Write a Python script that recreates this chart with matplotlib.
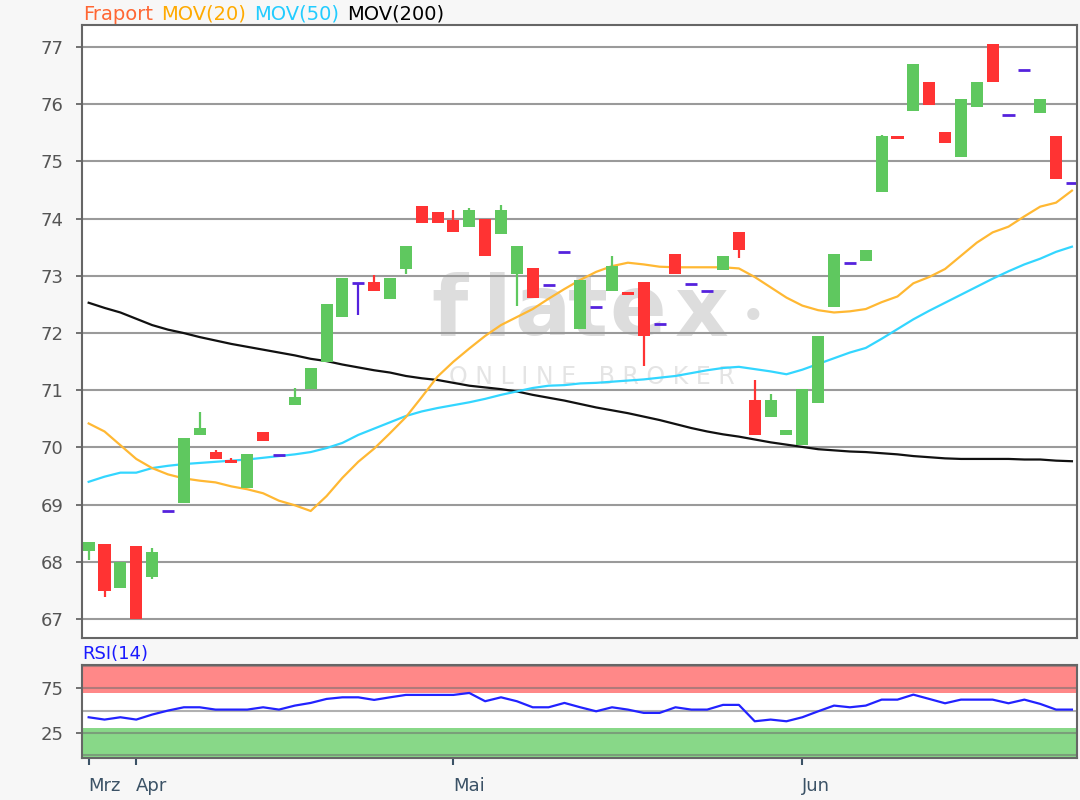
import matplotlib
matplotlib.use("Agg")
import matplotlib.pyplot as plt

# ---------------- data ----------------
opens = [68.19, 68.31, 67.55, 68.28, 67.73, 68.89, 69.03, 70.22, 69.92, 69.78,
         69.29, 70.27, 69.87, 70.74, 71.02, 71.50, 72.28, 72.88, 72.89, 72.59,
         73.12, 74.22, 74.11, 73.98, 73.85, 74.00, 73.74, 73.03, 73.14, 72.84,
         73.41, 72.07, 72.46, 72.73, 72.71, 72.89, 72.15, 73.38, 72.85, 72.74,
         73.11, 73.76, 70.83, 70.53, 70.22, 70.04, 70.77, 72.45, 73.23, 73.26,
         74.47, 75.44, 75.88, 76.38, 75.52, 75.07, 75.95, 77.05, 75.81, 76.59,
         75.84, 75.44, 74.63]
highs = [68.35, 68.31, 68.00, 68.28, 68.24, 68.89, 70.16, 70.62, 69.95, 69.81,
         69.88, 70.27, 69.87, 71.04, 71.39, 72.51, 72.96, 72.88, 73.01, 72.96,
         73.52, 74.22, 74.11, 74.15, 74.19, 74.00, 74.23, 73.52, 73.14, 72.84,
         73.41, 72.93, 72.46, 73.35, 72.71, 72.89, 72.15, 73.38, 72.85, 72.74,
         73.35, 73.76, 71.18, 70.93, 70.30, 71.03, 71.95, 73.38, 73.23, 73.45,
         75.47, 75.44, 76.70, 76.38, 75.52, 76.10, 76.38, 77.05, 75.81, 76.59,
         76.10, 75.44, 74.63]
lows = [68.03, 67.38, 67.55, 67.00, 67.70, 68.89, 69.03, 70.22, 69.80, 69.73,
        69.29, 70.11, 69.87, 70.74, 71.02, 71.50, 72.28, 72.31, 72.73, 72.59,
        73.03, 73.92, 73.92, 73.77, 73.85, 73.35, 73.74, 72.47, 72.62, 72.84,
        73.41, 72.07, 72.46, 72.73, 72.66, 71.43, 72.15, 73.04, 72.85, 72.74,
        73.11, 73.32, 70.22, 70.53, 70.22, 70.04, 70.77, 72.45, 73.23, 73.26,
        74.47, 75.39, 75.88, 75.99, 75.32, 75.07, 75.95, 76.39, 75.81, 76.59,
        75.84, 74.69, 74.63]
closes = [68.35, 67.49, 68.00, 67.00, 68.17, 68.89, 70.16, 70.34, 69.80, 69.73,
          69.88, 70.11, 69.87, 70.89, 71.39, 72.51, 72.96, 72.88, 72.73, 72.96,
          73.52, 73.92, 73.92, 73.77, 74.15, 73.35, 74.15, 73.52, 72.62, 72.84,
          73.41, 72.93, 72.46, 73.18, 72.66, 71.95, 72.15, 73.04, 72.85, 72.74,
          73.35, 73.46, 70.22, 70.83, 70.30, 71.03, 71.95, 73.38, 73.23, 73.45,
          75.44, 75.39, 76.70, 75.99, 75.32, 76.10, 76.38, 76.39, 75.81, 76.59,
          76.10, 74.69, 74.63]
mov20 = [70.42, 70.28, 70.04, 69.80, 69.64, 69.53, 69.46, 69.42, 69.39, 69.32,
         69.27, 69.20, 69.07, 68.99, 68.89, 69.15, 69.47, 69.75, 69.98, 70.25,
         70.53, 70.88, 71.24, 71.50, 71.73, 71.95, 72.14, 72.28, 72.42, 72.60,
         72.77, 72.93, 73.07, 73.17, 73.23, 73.20, 73.16, 73.15, 73.15, 73.15,
         73.15, 73.13, 72.98, 72.80, 72.62, 72.48, 72.40, 72.36, 72.38, 72.42,
         72.54, 72.64, 72.87, 72.98, 73.12, 73.35, 73.58, 73.76, 73.86, 74.04,
         74.21, 74.28, 74.49]
mov50 = [69.40, 69.49, 69.56, 69.56, 69.64, 69.68, 69.71, 69.73, 69.75, 69.77,
         69.79, 69.82, 69.85, 69.88, 69.92, 69.99, 70.08, 70.22, 70.33, 70.44,
         70.55, 70.63, 70.69, 70.74, 70.79, 70.85, 70.92, 70.98, 71.04, 71.08,
         71.09, 71.12, 71.13, 71.15, 71.17, 71.19, 71.22, 71.25, 71.30, 71.35,
         71.39, 71.41, 71.37, 71.33, 71.28, 71.36, 71.46, 71.56, 71.66, 71.74,
         71.90, 72.07, 72.24, 72.39, 72.53, 72.67, 72.81, 72.95, 73.08, 73.20,
         73.30, 73.42, 73.51]
mov200 = [72.53, 72.44, 72.36, 72.25, 72.14, 72.06, 72.00, 71.93, 71.87, 71.81,
          71.76, 71.71, 71.66, 71.61, 71.55, 71.51, 71.45, 71.40, 71.35, 71.31,
          71.25, 71.21, 71.18, 71.13, 71.08, 71.05, 71.02, 70.98, 70.92, 70.87,
          70.82, 70.76, 70.70, 70.65, 70.60, 70.54, 70.48, 70.41, 70.34, 70.28,
          70.23, 70.19, 70.14, 70.09, 70.05, 70.01, 69.97, 69.95, 69.93, 69.92,
          69.90, 69.88, 69.85, 69.83, 69.81, 69.80, 69.80, 69.80, 69.80, 69.79,
          69.79, 69.77, 69.76]
rsi = [42.5, 39.9, 42.5, 39.9, 45.5, 50.0, 53.7, 53.7, 51.1, 51.1,
       51.1, 53.7, 51.1, 55.6, 58.6, 63.1, 64.9, 64.9, 62.0, 64.9,
       67.6, 67.6, 67.6, 67.6, 69.8, 60.5, 64.9, 60.5, 53.7, 53.7,
       58.6, 53.7, 49.2, 53.7, 51.1, 47.4, 47.4, 53.7, 51.1, 51.1,
       56.4, 56.4, 38.0, 39.9, 38.0, 42.5, 49.2, 55.6, 53.7, 55.6,
       62.3, 62.3, 67.9, 63.1, 58.2, 62.3, 62.3, 62.3, 58.2, 62.3,
       57.5, 51.1, 51.1]
price_ticks = [67, 68, 69, 70, 71, 72, 73, 74, 75, 76, 77]
rsi_ticks = [25, 75]
rsi_grid = [0, 25, 50, 75, 100]
month_labels = ["Mrz", "Apr", "Mai", "Jun"]
month_pos = [0, 3, 23, 45]
title_parts = ["Fraport", "MOV(20)", "MOV(50)", "MOV(200)"]

# ---------------- styles ----------------
GREEN = "#5fc85f"
RED = "#ff3333"
PURPLE = "#5522dd"
C20 = "#ffb833"
C50 = "#33d6ff"
C200 = "#111111"
FRAME = "#666666"
title_colors = ["#ff6633", "#ffaa00", "#22ccff", "#000000"]
W, H = 1080, 800

plt.rcParams["font.family"] = ["DejaVu Sans"]

fig = plt.figure(figsize=(W / 100, H / 100), dpi=100, facecolor="#f7f7f7")


def box(l, t, r, b):
    return [l / W, 1 - b / H, (r - l) / W, (b - t) / H]


ax = fig.add_axes(box(82, 25, 1077, 638))
ax2 = fig.add_axes(box(82, 665, 1077, 757.5))
ax.set_facecolor("white")

x = list(range(len(opens)))

# watermark (behind the marks)
wm_col = "#dddddd"
for ch, px in zip("flatex", [450, 497, 542, 588, 638, 702]):
    ax.text(px / W, 1 - 312 / H, ch, fontsize=60, color=wm_col,
            ha="center", va="center", fontweight="bold", zorder=0.5,
            transform=fig.transFigure)
ax.text(753 / W, 1 - 318 / H, "\u2022", fontsize=30, color=wm_col,
        ha="center", va="center", zorder=0.5, transform=fig.transFigure)
ax.text(592 / W, 1 - 377 / H, "O N L I N E   B R O K E R", fontsize=17,
        color="#e4e4e4", ha="center", va="center", zorder=0.5,
        transform=fig.transFigure)

# grid
for v in price_ticks:
    ax.axhline(v, color="#9a9a9a", lw=1.5, zorder=1)

# moving averages
ax.plot(x, mov200, color=C200, lw=1.6, zorder=2)
ax.plot(x, mov50, color=C50, lw=1.6, zorder=2)
ax.plot(x, mov20, color=C20, lw=1.6, zorder=2)

# candles
bw = 0.76
for i, (o, h, l, c) in enumerate(zip(opens, highs, lows, closes)):
    if c > o:
        col = GREEN
    elif c < o:
        col = RED
    else:
        col = PURPLE
    if h > max(o, c) or l < min(o, c):
        ax.vlines(i, l, h, color=col, lw=1.6, zorder=3)
    if c == o:
        ax.hlines(o, i - bw / 2, i + bw / 2, color=col, lw=2.0, zorder=4)
    else:
        ax.bar(i, abs(c - o), bottom=min(o, c), width=bw, color=col,
               linewidth=0, zorder=4)

ax.set_xlim(-0.42, 62.32)
ax.set_ylim(66.67, 77.385)
ax.set_yticks(price_ticks)
ax.set_yticklabels([str(v) for v in price_ticks])
ax.set_xticks([])
ax.tick_params(axis="y", length=4.5, width=1.3, color=FRAME, pad=9,
               labelsize=13, labelcolor="#555555")
for s in ax.spines.values():
    s.set_color(FRAME)
    s.set_linewidth(1.5)
    s.set_zorder(5)

# RSI panel
ax2.set_xlim(-0.42, 62.32)
ax2.set_ylim(-2.7, 101.2)
ax2.axhspan(70, 101.2, color="#ff8888", zorder=0, lw=0)
ax2.axhspan(-2.7, 30, color="#88d888", zorder=0, lw=0)
for v in rsi_grid:
    ax2.axhline(v, color="#707070", alpha=0.55, lw=1.5, zorder=1)
ax2.plot(x, rsi, color="#2222ff", lw=1.6, zorder=3)
ax2.set_yticks(rsi_ticks)
ax2.set_yticklabels([str(v) for v in rsi_ticks])
ax2.tick_params(axis="y", length=4.5, width=1.3, color=FRAME, pad=9,
                labelsize=13, labelcolor="#555555")
ax2.set_xticks(month_pos)
ax2.set_xticklabels(month_labels)
ax2.tick_params(axis="x", length=5, width=1.5, color="#3b5266", pad=9,
                labelsize=13, labelcolor="#3b5266")
for lab in ax2.get_xticklabels():
    lab.set_horizontalalignment("left")
for s in ax2.spines.values():
    s.set_color(FRAME)
    s.set_linewidth(1.5)

# titles: flow the coloured words one after another
renderer = fig.canvas.get_renderer()
ty = 1 - 14 / H
cur = 83.0
for txt, col in zip(title_parts, title_colors):
    t = fig.text(cur / W, ty, txt, fontsize=14, color=col, ha="left", va="center")
    cur += t.get_window_extent(renderer).width + 8
fig.text(82 / W, 1 - 654 / H, "RSI(14)", fontsize=13, color="#1a1aff",
         ha="left", va="center")

fig.savefig("out.png", dpi=100, facecolor=fig.get_facecolor())
